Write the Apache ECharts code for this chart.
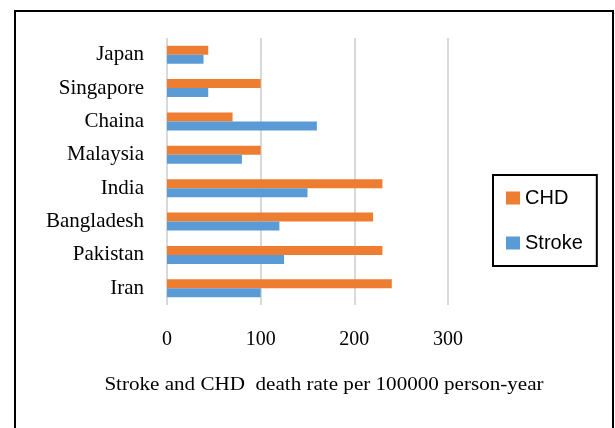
<!DOCTYPE html>
<html>
<head>
<meta charset="utf-8">
<script src="https://cdn.jsdelivr.net/npm/echarts@6/dist/echarts.min.js"></script>
<style>html,body{margin:0;padding:0;background:#fff}#c{width:615px;height:428px}</style>
</head>
<body>
<div id="c"></div>
<script>
const categories = ['Japan', 'Singapore', 'Chaina', 'Malaysia', 'India', 'Bangladesh', 'Pakistan', 'Iran'];
const chd = [44, 100, 70, 100, 230, 220, 230, 240];
const stroke = [39, 44, 160, 80, 150, 120, 125, 100];
const xTicks = [0, 100, 200, 300];
const axisTitle = 'Stroke and CHD  death rate per 100000 person-year';

const chart = echarts.init(document.getElementById('c'), null, {renderer: 'canvas'});
chart.setOption({
  animation: false,
  backgroundColor: '#fff',
  grid: {left: 167, top: 38, width: 281, height: 267, containLabel: false},
  xAxis: {
    type: 'value', min: xTicks[0], max: xTicks[xTicks.length - 1], interval: 100,
    axisLine: {show: false}, axisTick: {show: false},
    axisLabel: {margin: 25, color: '#000', fontFamily: 'Liberation Serif', fontSize: 20},
    splitLine: {show: true, lineStyle: {color: '#d9d9d9', width: 2}}
  },
  yAxis: {
    type: 'category', data: categories, inverse: true,
    axisLine: {show: false}, axisTick: {show: false},
    axisLabel: {margin: 23, color: '#000', fontFamily: 'Liberation Serif', fontSize: 21}
  },
  legend: {
    orient: 'vertical', left: 493, top: 175,
    data: ['CHD', 'Stroke'],
    itemWidth: 14, itemHeight: 13, itemGap: 25,
    padding: [13, 14, 13, 13],
    borderColor: '#000', borderWidth: 2,
    icon: 'rect',
    textStyle: {fontFamily: 'Liberation Sans', fontSize: 20, color: '#000'}
  },
  series: [
    {name: 'CHD', type: 'bar', data: chd, barWidth: 9, barGap: '0%', barCategoryGap: '48%',
     itemStyle: {color: '#ed7d31'}},
    {name: 'Stroke', type: 'bar', data: stroke, barWidth: 9, barGap: '0%',
     itemStyle: {color: '#5b9bd5'}}
  ],
  graphic: [
    {type: 'rect', shape: {x: 15, y: 11, width: 598, height: 440},
     style: {fill: 'none', stroke: '#000', lineWidth: 2}, silent: true, z: 100},
    {type: 'text', x: 324, y: 385, scaleX: 1.11,
     style: {text: axisTitle, fontFamily: 'Liberation Serif', fontSize: 19, fill: '#000',
             align: 'center', verticalAlign: 'middle'}}
  ]
});
</script>
</body>
</html>
